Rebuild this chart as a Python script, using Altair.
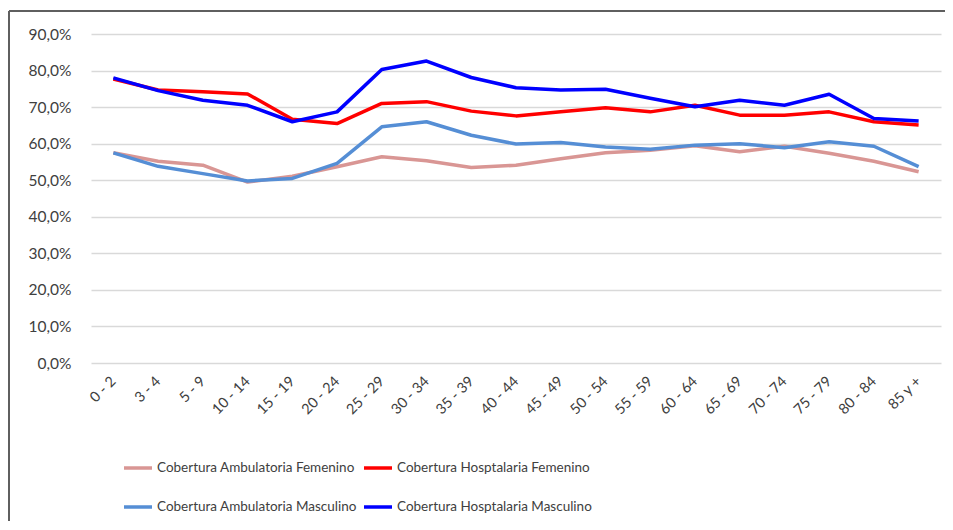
import altair as alt
import pandas as pd

categories = ["0 - 2", "3 - 4", "5 - 9", "10 - 14", "15 - 19", "20 - 24", "25 - 29",
              "30 - 34", "35 - 39", "40 - 44", "45 - 49", "50 - 54", "55 - 59",
              "60 - 64", "65 - 69", "70 - 74", "75 - 79", "80 - 84", "85 y +"]

amb_fem = [57.5, 55.2, 54.1, 49.5, 51.1, 53.7, 56.4, 55.3, 53.5, 54.1, 55.9, 57.5,
           58.2, 59.4, 57.8, 59.3, 57.4, 55.2, 52.3]
hosp_fem = [77.7, 74.7, 74.2, 73.6, 66.7, 65.5, 71.0, 71.5, 68.9, 67.6, 68.7, 69.8,
            68.7, 70.5, 67.8, 67.8, 68.7, 66.0, 65.1]
amb_masc = [57.5, 53.8, 51.8, 49.8, 50.5, 54.6, 64.6, 66.0, 62.3, 59.9, 60.3, 59.1,
            58.5, 59.6, 60.0, 58.9, 60.5, 59.3, 53.7]
hosp_masc = [78.0, 74.5, 71.9, 70.5, 66.0, 68.7, 80.3, 82.6, 78.1, 75.3, 74.7, 74.9,
             72.4, 70.1, 71.9, 70.5, 73.5, 66.9, 66.2]

series_names = ["Cobertura Ambulatoria Femenino", "Cobertura Hosptalaria Femenino",
                "Cobertura Ambulatoria Masculino", "Cobertura Hosptalaria Masculino"]
series_colors = ["#d99694", "#ff0000", "#558ed5", "#0000ff"]
# legend is laid out column by column, so list the entries in that order
legend_order = [series_names[0], series_names[2], series_names[1], series_names[3]]
legend_colors = [series_colors[0], series_colors[2], series_colors[1], series_colors[3]]
y_ticks = [0, 10, 20, 30, 40, 50, 60, 70, 80, 90]

rows = []
for name, vals in zip(series_names, [amb_fem, hosp_fem, amb_masc, hosp_masc]):
    for i, (c, v) in enumerate(zip(categories, vals)):
        rows.append({"grupo": c, "valor": v, "serie": name, "orden": i})
df = pd.DataFrame(rows)

FONT = "Lato"

lines = alt.Chart(df).mark_line(strokeWidth=3.5, strokeJoin="round", strokeCap="butt").encode(
    x=alt.X("grupo:N", sort=categories, title=None,
            axis=alt.Axis(labelAngle=-45, labelAlign="right", labelBaseline="middle",
                          labelPadding=16, ticks=False, domain=False, grid=False,
                          labelFont=FONT, labelFontSize=14.5, labelColor="#404040")),
    y=alt.Y("valor:Q", title=None,
            scale=alt.Scale(domain=[0, 90], nice=False),
            axis=alt.Axis(values=y_ticks, ticks=False, domain=False, grid=True,
                          gridColor="#d9d9d9", gridWidth=1.5,
                          labelExpr="replace(format(datum.value, '.1f'), '.', ',') + '%'",
                          labelPadding=20, labelFont=FONT, labelFontSize=15.5,
                          labelColor="#404040")),
    color=alt.Color("serie:N", sort=legend_order,
                    scale=alt.Scale(domain=legend_order, range=legend_colors),
                    legend=alt.Legend(title=None, orient="none", legendX=31, legendY=418,
                                      columns=2, symbolType="stroke", symbolStrokeWidth=3.5,
                                      symbolSize=784, labelFont=FONT, labelFontSize=13.5,
                                      labelColor="#404040", labelOffset=3,
                                      columnPadding=0, rowPadding=16, labelLimit=400)),
    detail="serie:N",
)

frame_data = alt.Data(values=[{"k": 1}])
frame_left = alt.Chart(frame_data).mark_rule(color="#5f5f5f", strokeWidth=2).encode(
    x=alt.value(-82), y=alt.value(-23), y2=alt.value(520))
frame_top = alt.Chart(frame_data).mark_rule(color="#5f5f5f", strokeWidth=2).encode(
    x=alt.value(-82), x2=alt.value(900), y=alt.value(-23))

chart = alt.layer(lines, frame_left, frame_top).properties(
    width=850, height=329,
    autosize=alt.AutoSizeParams(type="none"),
    padding={"left": 83, "top": 26, "right": 4, "bottom": 158},
).configure_view(stroke=None)

chart.save("out.html", embed_options={"renderer": "svg", "actions": False})
